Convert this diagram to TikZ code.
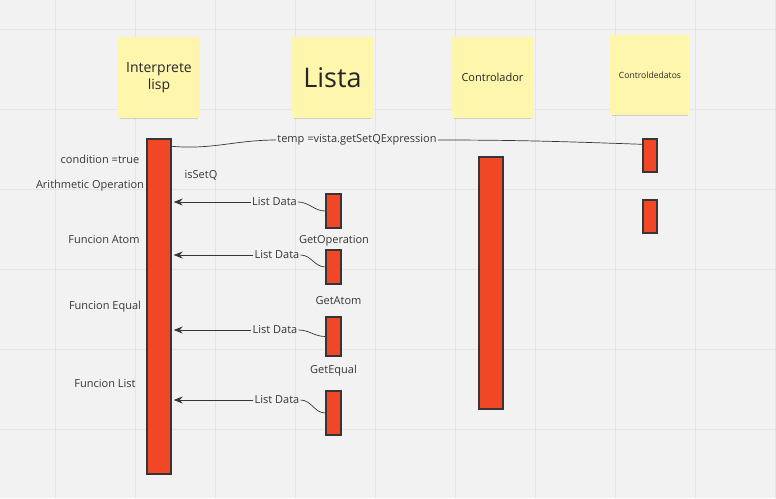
\documentclass[tikz,border=0pt]{standalone}
\usepackage{fontspec}
\setmainfont{Open Sans}
\usetikzlibrary{arrows, arrows.meta, shadows}
\definecolor{board}{HTML}{F2F2F2}
\definecolor{gridline}{HTML}{E5E5E5}
\definecolor{sticky}{HTML}{FFF6AE}
\definecolor{actred}{HTML}{F24726}
\definecolor{inkgray}{HTML}{363636}
\tikzstyle{note} = [rectangle, fill=sticky, text=black!85, align=center, inner sep=0pt,
drop shadow={shadow xshift=0pt, shadow yshift=-4pt, shadow scale=0.94, opacity=0.3}]
\tikzstyle{bar} = [rectangle, fill=actred, draw=inkgray, line width=1.4pt, inner sep=0pt]
\tikzstyle{lbl} = [text=inkgray, font=\fontsize{11}{13}\selectfont, inner sep=1pt]
\tikzstyle{arrow} = [line width=0.7pt, draw=inkgray, ->, >={Stealth[length=9pt, width=7pt]}]
\tikzstyle{line} = [line width=0.7pt, draw=inkgray, -]

\begin{document}
\begin{tikzpicture}[x=1pt, y=-1pt]
        \useasboundingbox (0,0) rectangle (776,498);
        \fill[board] (0,0) rectangle (776,498);
        \foreach \x in {55,135,...,775} \draw[gridline, line width=1pt] (\x,0) -- (\x,498);
        \foreach \y in {29,109,...,509} \draw[gridline, line width=1pt] (0,\y) -- (776,\y);

        % sticky notes
        \node (IP) [note, minimum width=82pt, minimum height=81pt, font=\fontsize{14}{17}\selectfont] at (159,77.5) {Interprete\\ lisp};
        \node (LI) [note, minimum width=81pt, minimum height=81pt, font=\fontsize{27}{30}\selectfont] at (332.5,77.5) {Lista};
        \node (CO) [note, minimum width=81pt, minimum height=81pt, font=\fontsize{11}{13}\selectfont] at (492.5,77.5) {Controlador};
        \node (CD) [note, minimum width=80pt, minimum height=80pt, font=\fontsize{8.6}{10}\selectfont] at (650,75) {Controldedatos};

        % activation bars
        \node (ipbar) [bar, minimum width=24pt, minimum height=335pt] at (159,306.5) {};
        \node (cobar) [bar, minimum width=24pt, minimum height=252pt] at (491,283) {};
        \node (cd1) [bar, minimum width=14pt, minimum height=33pt] at (650,155.5) {};
        \node (cd2) [bar, minimum width=14pt, minimum height=33pt] at (650,216.5) {};
        \node (li1) [bar, minimum width=15pt, minimum height=34pt] at (333.5,211) {};
        \node (li2) [bar, minimum width=15pt, minimum height=34pt] at (333.5,267) {};
        \node (li3) [bar, minimum width=15pt, minimum height=39pt] at (333.5,336.5) {};
        \node (li4) [bar, minimum width=15pt, minimum height=44pt] at (333.5,413) {};

        % labels
        \node (cond) [lbl] at (100,159) {condition =true};
        \node (arith) [lbl] at (90,186) {Arithmetic Operation};
        \node (issetq) [lbl] at (201,175) {isSetQ};
        \node (fatom) [lbl] at (104,240) {Funcion Atom};
        \node (fequal) [lbl] at (105,307) {Funcion Equal};
        \node (flist) [lbl] at (105,384) {Funcion List};
        \node (gop) [lbl] at (334,241) {GetOperation};
        \node (gatom) [lbl] at (338.5,301) {GetAtom};
        \node (gequal) [lbl] at (333.5,371) {GetEqual};

        % messages
        \node (tmp) [lbl] at (357,140) {temp =vista.getSetQExpression};
        \draw [line] ([yshift=-8pt]ipbar.north east) to[out=-5, in=180] (tmp.west);
        \draw [line] (tmp.east) to[out=0, in=178] ([yshift=-6pt]cd1.north west);

        \node (ld1) [lbl] at (274.5,202) {List Data};
        \node (ld2) [lbl] at (277,255) {List Data};
        \node (ld3) [lbl] at (275,330) {List Data};
        \node (ld4) [lbl] at (277,400) {List Data};

        \foreach \i in {1,...,4} {
            \draw [line] (li\i.west) to[out=180, in=0] (ld\i.east);
            \draw [arrow] (ld\i.west) -- ([xshift=2pt]ld\i -| ipbar.east);
        }

    \end{tikzpicture}
\end{document}
